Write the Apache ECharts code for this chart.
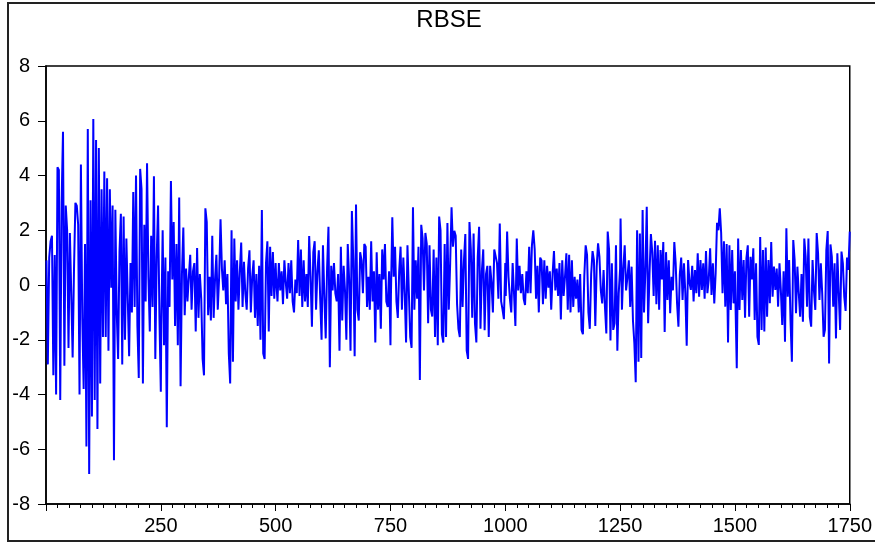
<!DOCTYPE html>
<html>
<head>
<meta charset="utf-8">
<title>RBSE</title>
<script src="https://cdn.jsdelivr.net/npm/echarts@6/dist/echarts.min.js"></script>
<style>
  html, body { margin: 0; padding: 0; background: #fff; }
  #chart { width: 875px; height: 543px; }
</style>
</head>
<body>
<div id="chart"></div>
<script>
// Chart text and axis ticks
const chartTitle = 'RBSE'
const xMin = 0
const xMax = 1750
const xInterval = 250
const yMin = -8
const yMax = 8
const yInterval = 2

// Series read off the picture, one value every 3 observations,
// split in blocks of 250 observations (1-250, 251-500, ...)
const obsPerBlock = 250
const obsStep = 3

const rbse0001 = [
  0.9, -2.9, 1.0, 1.6, 1.8, -3.3, 1.1, -4.0, 4.3, 4.2,
  -4.2, 3.0, 5.6, -2.95, 2.9, 2.0, -2.3, 1.9, -0.3, -2.65,
  0.6, 3.0, 2.9, 2.2, -4.0, 4.4, -1.2, -3.8, 1.5, -5.9,
  5.7, -6.9, 3.1, -4.8, 6.06, -4.2, 5.3, -5.26, 5.0, -3.6,
  3.5, -1.9, 4.15, -1.9, 3.9, -2.4, 3.5, -0.1, 2.9, -6.4,
  2.75, -1.0, -2.7, 1.2, 2.6, -2.9, 2.5, -2.0, 1.7, -0.5,
  -2.6, 0.8, -1.0, 3.4, -0.8, 4.0, -1.5, -3.4, 4.24, 3.5,
  -3.6, 2.2, -0.6, 4.45, 0.3, -1.7, 1.8, -0.8, 3.97, -2.7,
  1.0, 2.9, -1.2, -3.9
]
const rbse0251 = [
  -1.5, 2.0, -2.2, 1.0, -5.2, 0.5, -0.8, 3.8, 0.2, 2.3,
  -1.5, 1.5, -2.2, 3.2, -3.7, 0.4, 2.1, -1.1, 0.6, -0.6,
  0.3, 1.1, -0.9, 0.5, 0.8, -1.7, 1.35, -1.2, 0.4, -0.5,
  -2.7, -3.3, 2.8, 2.3, -1.1, 0.3, -1.3, 1.8, -1.2, 0.2,
  1.1, -0.9, 0.3, 2.4, 0.6, -0.2, 0.9, -0.7, 0.4, -2.5,
  -3.6, 2.0, -2.8, 1.7, -0.6, 0.9, -0.9, 0.5, 1.55, -0.8,
  0.85, -0.3, -0.9, 0.6, 1.27, -1.0, 0.3, 0.9, -1.2, 0.4,
  -1.5, 0.7, -2.0, 2.74, -2.5, -2.7, 0.8, 1.6, -1.7, 1.4,
  -0.4, 1.2, -0.5, 0.8
]
const rbse0501 = [
  0.3, -0.6, 0.8, -0.2, 0.5, -0.7, 0.9, 0.1, -0.5, 0.8,
  -0.3, 0.9, -0.6, -1.0, 0.2, -0.3, 1.64, -0.4, 1.3, -0.8,
  0.9, -0.6, 0.4, -0.8, 1.79, 0.3, -1.52, 1.2, 1.6, -0.9,
  0.5, 1.27, -0.5, -2.0, 1.45, -0.4, -1.95, 0.6, 2.13, -3.0,
  0.7, -0.2, 0.8, -0.3, -0.6, 0.4, -2.4, 1.4, -1.3, 0.7,
  -0.2, -2.0, 1.5, 0.2, -2.4, 2.7, 0.9, -2.6, 2.94, -0.9,
  -1.3, 1.2, 0.9, -0.3, 1.5, 1.4, -0.8, 0.3, -0.9, 1.6,
  -0.6, 0.5, -2.1, 1.2, -0.9, 0.4, -1.6, 1.3, 0.2, 1.5,
  -0.6, -0.8, 0.5, -2.2
]
const rbse0751 = [
  -0.4, 2.47, 0.3, 1.4, -0.6, -1.2, 0.5, 1.4, -0.9, 1.0,
  -0.3, -2.1, 1.45, 1.4, -1.9, -2.3, 2.84, -0.9, 0.9, -0.5,
  1.4, -3.47, 2.2, 1.7, -0.2, 1.9, 1.5, -1.4, 1.45, -0.9,
  -1.15, 1.3, -1.9, 1.0, -2.2, 2.5, 2.0, -1.8, -2.1, 1.5,
  -1.9, 2.26, -0.9, 0.8, 2.84, 1.4, 1.98, 1.8, -0.7, -1.6,
  -1.9, 1.3, -0.8, 0.9, 1.86, -2.4, -2.7, 2.3, 1.3, -1.2,
  1.88, -1.4, -2.1, 1.0, 2.13, -1.6, 0.5, 1.3, -1.65, 0.4,
  0.7, -1.9, 0.7, 0.1, -1.0, 1.3, 1.27, 0.8, -0.5, 2.25,
  -0.6, -0.9, -1.25, 0.8
]
const rbse1001 = [
  -0.4, 1.95, 0.3, -0.5, -1.0, 0.8, -0.3, -1.5, 1.7, -0.2,
  0.7, -0.3, 0.4, -0.5, -0.73, 0.5, -0.3, 1.4, -0.3, 1.45,
  2.0, 1.3, -0.5, 0.7, -1.0, 1.0, 0.9, -0.7, 0.9, -0.5,
  0.7, -0.1, 0.5, -0.9, 0.4, 1.24, -0.2, 0.6, -0.4, 0.8,
  -1.26, 0.9, -0.4, 0.3, 1.16, -0.9, 1.1, -1.0, 0.9, -0.8,
  0.3, -0.5, 0.2, -1.0, 0.4, -1.64, -1.8, 0.3, 1.45, 1.1,
  -1.0, -1.6, 0.4, 1.24, 0.9, -1.5, 0.67, 1.52, 1.03, -0.2,
  -0.67, 0.55, -0.8, -1.77, 1.95, 1.28, -2.03, 0.79, -1.64, -1.4,
  1.45, -2.4, -0.3, 0.6
]
const rbse1251 = [
  2.43, -0.9, 0.6, 1.45, -0.2, 0.3, 0.9, -0.8, 0.67, -1.3,
  -2.13, -3.55, 2.0, -2.8, 1.88, -2.67, 2.74, -1.0, 0.5, 2.86,
  -1.4, 0.4, 1.86, 1.2, -0.4, 1.62, -0.7, 1.45, -0.9, 1.28,
  0.2, 1.57, -1.72, 1.2, -0.55, 0.9, -1.03, 0.3, -0.2, 1.57,
  0.79, -0.67, -1.52, 0.4, 1.0, -0.55, 0.79, -0.3, -2.22, 0.91,
  0.1, -0.18, 0.7, -0.6, 0.55, -0.3, 1.16, -0.43, 0.91, -0.18,
  0.79, -0.5, 1.24, -0.3, 0.2, 1.34, -0.36, 0.79, -0.67, 0.43,
  2.27, 2.0, 2.8, 1.9, -0.3, 1.6, -0.79, 1.5, -2.1, 1.45,
  -0.91, 1.28, -0.67, 0.5
]
const rbse1501 = [
  -0.5, -3.04, 1.7, -0.91, 1.28, -0.55, 0.91, -1.2, 0.97, 1.45,
  -1.16, 1.03, 0.2, 1.34, -1.28, 0.79, -1.89, -2.19, 1.75, -1.64,
  1.28, -1.7, 1.37, -1.16, 0.91, -0.67, 1.57, -0.43, 0.67, -0.18,
  0.6, -0.79, 0.79, -0.2, -1.46, 0.5, -2.07, 2.07, -0.43, 0.91,
  -1.28, -2.8, 1.64, 0.91, -1.03, 0.67, -0.3, -1.16, 0.4, -1.34,
  1.7, 1.03, -0.79, 1.7, -1.16, -1.52, 0.91, -0.2, -0.91, 1.9,
  1.16, -0.55, 0.79, -0.3, -1.89, -1.64, 1.28, 1.97, -2.87, 1.48,
  1.03, -0.79, 0.79, -1.95, 1.16, -0.3, -1.64, 1.22, 0.79, -0.43,
  -0.95, 1.0, 0.55, 1.95
]

const blocks = [rbse0001, rbse0251, rbse0501, rbse0751, rbse1001, rbse1251, rbse1501]

// observation number for each value comes from its block and position
const seriesData = blocks.flatMap((block, b) =>
  block.map((v, k) => [1 + b * obsPerBlock + k * obsStep, v])
)

const font = '"Liberation Sans", Arial, sans-serif'

const chart = echarts.init(document.getElementById('chart'))

chart.setOption({
  animation: false,
  backgroundColor: '#fff',
  grid: {
    left: 46,
    right: 23,
    top: 66,
    bottom: 39,
    show: true,
    borderColor: '#000',
    borderWidth: 1.5,
    backgroundColor: 'transparent'
  },
  xAxis: {
    type: 'value',
    min: xMin,
    max: xMax,
    interval: xInterval,
    axisLine: { show: true, onZero: false, lineStyle: { color: '#000', width: 1.5 } },
    axisTick: { show: true, length: 7, lineStyle: { color: '#000', width: 1 } },
    minorTick: { show: true, splitNumber: 10, length: 4, lineStyle: { color: '#000', width: 1 } },
    splitLine: { show: false },
    axisLabel: {
      showMinLabel: false,
      margin: 12,
      fontSize: 20,
      fontFamily: font,
      color: '#000',
      formatter: v => String(v)
    }
  },
  yAxis: {
    type: 'value',
    min: yMin,
    max: yMax,
    interval: yInterval,
    axisLine: { show: true, onZero: false, lineStyle: { color: '#000', width: 1.5 } },
    axisTick: { show: true, length: 8, lineStyle: { color: '#000', width: 1 } },
    splitLine: { show: false },
    axisLabel: {
      margin: 16,
      fontSize: 20,
      fontFamily: font,
      color: '#000'
    }
  },
  series: [
    {
      name: chartTitle,
      type: 'line',
      data: seriesData,
      showSymbol: false,
      symbol: 'none',
      lineStyle: { color: '#0000ff', width: 2 },
      itemStyle: { color: '#0000ff' }
    }
  ],
  graphic: [
    {
      type: 'rect',
      silent: true,
      shape: { x: 8, y: 3, width: 900, height: 538 },
      style: { fill: 'none', stroke: '#222', lineWidth: 2 }
    },
    {
      type: 'text',
      silent: true,
      x: 449,
      y: 20,
      style: {
        text: chartTitle,
        align: 'center',
        verticalAlign: 'middle',
        fontSize: 24,
        fontFamily: font,
        fill: '#000'
      }
    }
  ]
})
</script>
</body>
</html>
